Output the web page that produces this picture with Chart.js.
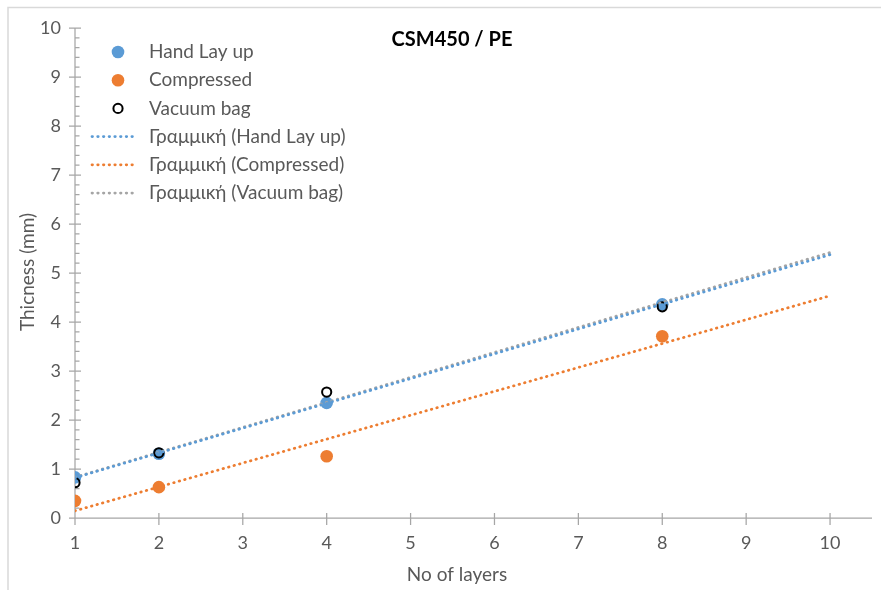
<!DOCTYPE html>
<html>
<head>
<meta charset="utf-8">
<title>CSM450 / PE</title>
<script src="https://cdn.jsdelivr.net/npm/chart.js@4.4.1/dist/chart.umd.min.js"></script>
<style>
  html, body { margin: 0; padding: 0; background: #fff; }
  #wrap { width: 881px; height: 590px; }
</style>
</head>
<body>
<div id="wrap"><canvas id="thicknessChart" width="881" height="590"></canvas></div>
<script>
// measured thickness per number of layers
const layers = [1, 2, 4, 8];
const handLayUp = [0.83, 1.31, 2.35, 4.36];
const compressed = [0.35, 0.63, 1.26, 3.71];
const vacuumBag = [0.72, 1.33, 2.57, 4.31];

// linear trendlines run over this x range
const trendRange = [1, 10];

const xTicks = [1, 2, 3, 4, 5, 6, 7, 8, 9, 10];
const yTicks = [0, 1, 2, 3, 4, 5, 6, 7, 8, 9, 10];

const seriesNames = ['Hand Lay up', 'Compressed', 'Vacuum bag'];
const trendNames = ['Γραμμική (Hand Lay up)', 'Γραμμική (Compressed)', 'Γραμμική (Vacuum bag)'];

const FONT = 'Lato, "Open Sans", sans-serif';
const TEXT = '#595959';
const AXIS = '#A6A6A6';
const BLUE = '#5B9BD5';
const ORANGE = '#ED7D31';
const GREY = '#A5A5A5';

function toPoints(ys) {
  return layers.map((x, i) => ({ x: x, y: ys[i] }));
}

// least squares line, evaluated at the ends of trendRange
function linearFit(ys) {
  const n = layers.length;
  const mx = layers.reduce((a, b) => a + b, 0) / n;
  const my = ys.reduce((a, b) => a + b, 0) / n;
  let sxy = 0;
  let sxx = 0;
  layers.forEach((x, i) => {
    sxy += (x - mx) * (ys[i] - my);
    sxx += (x - mx) * (x - mx);
  });
  const slope = sxy / sxx;
  const icpt = my - slope * mx;
  return trendRange.map((x) => ({ x: x, y: icpt + slope * x }));
}

function trendDataset(label, ys, color) {
  return {
    label: label,
    data: linearFit(ys),
    showLine: true,
    borderColor: color,
    borderWidth: 2.75,
    borderDash: [0.5, 5.2],
    borderCapStyle: 'round',
    pointRadius: 0,
    pointHoverRadius: 0,
    fill: false,
  };
}

function pointDataset(label, ys, fill, stroke, radius, width) {
  return {
    label: label,
    data: toPoints(ys),
    showLine: false,
    pointStyle: 'circle',
    pointRadius: radius,
    pointHoverRadius: radius,
    pointBackgroundColor: fill,
    pointBorderColor: stroke,
    pointBorderWidth: width,
  };
}

// first dataset is painted last, so trendlines end up on top
const datasets = [
  trendDataset(trendNames[0], handLayUp, BLUE),
  trendDataset(trendNames[2], vacuumBag, GREY),
  trendDataset(trendNames[1], compressed, ORANGE),
  pointDataset(seriesNames[2], vacuumBag, 'rgba(0,0,0,0)', '#000', 4.6, 2),
  pointDataset(seriesNames[0], handLayUp, BLUE, BLUE, 6.3, 0),
  pointDataset(seriesNames[1], compressed, ORANGE, ORANGE, 6.3, 0),
];

const legendRows = [
  { text: seriesNames[0], ds: 4 },
  { text: seriesNames[1], ds: 5 },
  { text: seriesNames[2], ds: 3 },
  { text: trendNames[0], ds: 0 },
  { text: trendNames[1], ds: 2 },
  { text: trendNames[2], ds: 1 },
];

const excelLook = {
  id: 'excelLook',
  beforeDraw(chart) {
    const c = chart.ctx;
    c.save();
    c.fillStyle = '#fff';
    c.fillRect(0, 0, chart.width, chart.height);
    c.strokeStyle = '#D9D9D9';
    c.lineWidth = 1.5;
    c.strokeRect(8, 7.5, chart.width + 20, chart.height + 20);
    c.restore();
  },
  beforeDatasetsDraw(chart) {
    const c = chart.ctx;
    const xs = chart.scales.x;
    const ys = chart.scales.y;
    const area = chart.chartArea;
    c.save();
    c.strokeStyle = AXIS;
    c.lineWidth = 1.25;
    c.beginPath();
    c.moveTo(area.left - 5, area.bottom);
    c.lineTo(area.right, area.bottom);
    c.moveTo(area.left, area.top);
    c.lineTo(area.left, area.bottom);
    // major ticks
    xTicks.forEach((v) => {
      const px = xs.getPixelForValue(v);
      c.moveTo(px, area.bottom - 5);
      c.lineTo(px, area.bottom + 7);
    });
    yTicks.forEach((v) => {
      const py = ys.getPixelForValue(v);
      c.moveTo(area.left - 6, py);
      c.lineTo(area.left + 6, py);
    });
    c.stroke();
    // minor ticks on y, five per unit
    c.beginPath();
    for (let i = 0; i < yTicks.length - 1; i++) {
      for (let k = 1; k < 5; k++) {
        const py = ys.getPixelForValue(yTicks[i] + k * 0.2);
        c.moveTo(area.left, py);
        c.lineTo(area.left + 4.5, py);
      }
    }
    c.stroke();
    c.restore();
  },
  afterDraw(chart) {
    const c = chart.ctx;
    c.save();
    c.fillStyle = '#000';
    c.textAlign = 'center';
    c.textBaseline = 'middle';
    c.font = 'bold 20px ' + FONT;
    c.fillText('CSM450 / PE', 452, 40);

    c.fillStyle = TEXT;
    c.font = '19px ' + FONT;
    c.fillText('No of layers', 457, 575);
    c.save();
    c.translate(28, 272);
    c.rotate(-Math.PI / 2);
    c.fillText('Thicness (mm)', 0, 0);
    c.restore();

    // legend inside the plot, top left
    c.textAlign = 'left';
    legendRows.forEach((row, i) => {
      const y = 52 + i * 28.2;
      const ds = chart.data.datasets[row.ds];
      if (ds.showLine) {
        c.save();
        c.strokeStyle = ds.borderColor;
        c.lineWidth = ds.borderWidth;
        c.lineCap = 'round';
        c.setLineDash(ds.borderDash);
        c.beginPath();
        c.moveTo(92, y);
        c.lineTo(137, y);
        c.stroke();
        c.restore();
      } else {
        c.beginPath();
        c.arc(118, y, ds.pointRadius, 0, Math.PI * 2);
        if (ds.pointBorderWidth > 0) {
          c.lineWidth = ds.pointBorderWidth;
          c.strokeStyle = ds.pointBorderColor;
          c.stroke();
        } else {
          c.fillStyle = ds.pointBackgroundColor;
          c.fill();
        }
      }
      c.fillStyle = TEXT;
      c.fillText(row.text, 149, y);
    });
    c.restore();
  },
};

const config = {
  type: 'scatter',
  data: { datasets: datasets },
  options: {
    responsive: false,
    animation: false,
    layout: { padding: { top: 28, right: 9, left: 0, bottom: 0 } },
    plugins: {
      legend: { display: false },
      title: { display: false },
      tooltip: { enabled: false },
    },
    scales: {
      x: {
        type: 'linear',
        min: 1,
        max: 10.5,
        grid: { display: false, drawTicks: false },
        border: { display: false },
        ticks: {
          padding: 14,
          color: TEXT,
          font: { family: FONT, size: 18 },
          includeBounds: false,
        },
        afterBuildTicks(scale) {
          scale.ticks = xTicks.map((v) => ({ value: v }));
        },
        afterFit(scale) {
          scale.height = 72;
        },
      },
      y: {
        type: 'linear',
        min: 0,
        max: 10,
        grid: { display: false, drawTicks: false },
        border: { display: false },
        ticks: {
          padding: 14,
          color: TEXT,
          font: { family: FONT, size: 18 },
        },
        afterBuildTicks(scale) {
          scale.ticks = yTicks.map((v) => ({ value: v }));
        },
        afterFit(scale) {
          scale.width = 75;
        },
      },
    },
  },
  plugins: [excelLook],
};

const chart = new Chart(document.getElementById('thicknessChart'), config);
</script>
</body>
</html>
